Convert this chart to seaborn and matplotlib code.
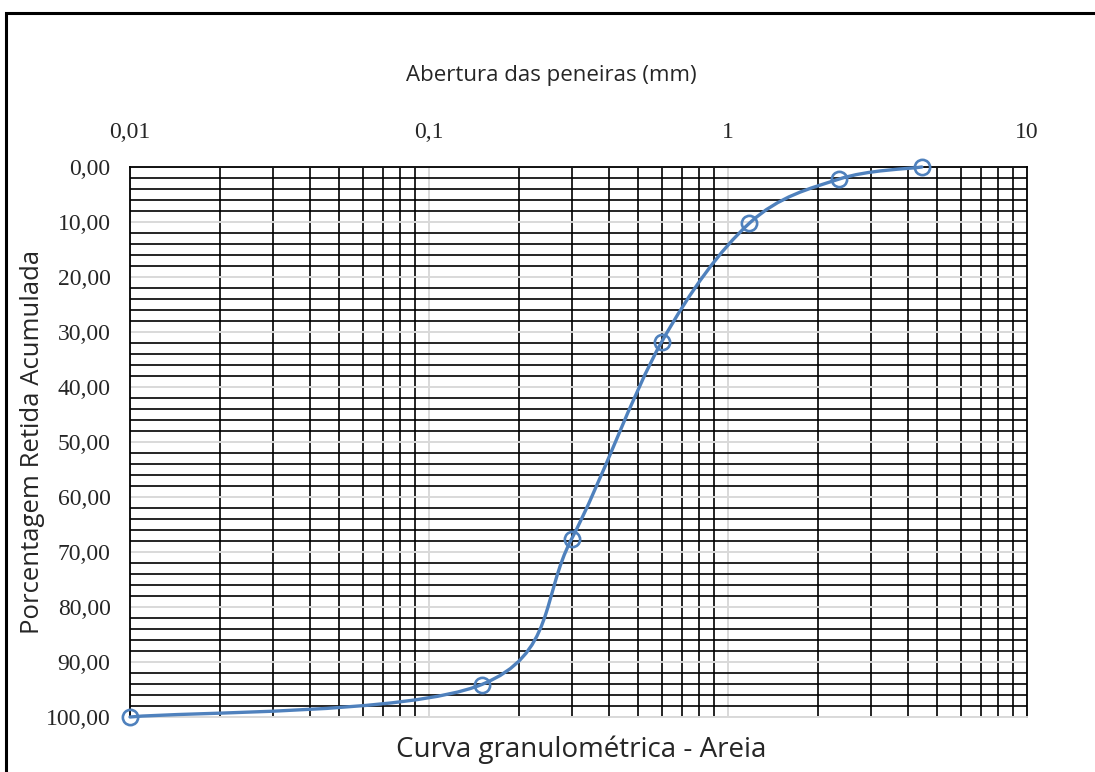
import matplotlib
matplotlib.use("Agg")
import matplotlib.pyplot as plt
import numpy as np
import seaborn as sns
from matplotlib.patches import PathPatch, Rectangle
from matplotlib.path import Path
from matplotlib.ticker import FixedLocator, FuncFormatter, LogLocator, MultipleLocator

# abertura (mm) e porcentagem retida acumulada
abertura = [4.45, 2.35, 1.18, 0.6, 0.3, 0.15, 0.01]
retida = [0.0, 2.2, 10.2, 31.8, 67.6, 94.1, 100.0]

x_ticks = [0.01, 0.1, 1, 10]
x_tick_labels = ["0,01", "0,1", "1", "10"]
y_ticks = [0, 10, 20, 30, 40, 50, 60, 70, 80, 90, 100]

line_color = "#4F81BD"

sns.set_style("white")

fig = plt.figure(figsize=(10.95, 7.72), dpi=100)
ax = fig.add_axes([130 / 1095, 1 - 717 / 772, (1027 - 130) / 1095, (717 - 167) / 772])

ax.set_xscale("log")
ax.set_xlim(0.01, 10)
ax.set_ylim(100, 0)

# curva suavizada (tipo Excel) feita com Bezier no espaco log(x), y
pts = sorted(zip(abertura, retida))
u = np.log10([p[0] for p in pts])
v = np.array([p[1] for p in pts])
P = np.column_stack([u, v])
n = len(P)
verts = [P[0]]
codes = [Path.MOVETO]
for i in range(n - 1):
    p_prev = P[max(i - 1, 0)]
    p_next2 = P[min(i + 2, n - 1)]
    c1 = P[i] + (P[i + 1] - p_prev) / 6
    c2 = P[i + 1] - (p_next2 - P[i]) / 6
    verts += [c1, c2, P[i + 1]]
    codes += [Path.CURVE4] * 3
verts = np.array(verts)
verts[:, 0] = 10 ** verts[:, 0]
curve = PathPatch(Path(verts, codes), facecolor="none", edgecolor=line_color,
                  lw=2.4, zorder=3, capstyle="round", clip_on=False)
ax.add_patch(curve)

sns.lineplot(x=abertura, y=retida, ax=ax, estimator=None, sort=False,
             linestyle="none", marker="o", markersize=11,
             markerfacecolor="none", markeredgecolor=line_color,
             markeredgewidth=1.9, zorder=4, clip_on=False)

# grade
ax.xaxis.set_major_locator(FixedLocator(x_ticks))
ax.xaxis.set_minor_locator(LogLocator(base=10, subs=np.arange(2, 10)))
ax.yaxis.set_major_locator(FixedLocator(y_ticks))
ax.yaxis.set_minor_locator(MultipleLocator(2))
ax.grid(which="major", color="#d9d9d9", lw=1.4, zorder=0)
ax.grid(which="minor", color="black", lw=1.2, zorder=1)
ax.set_axisbelow(True)

ax.xaxis.tick_top()
ax.xaxis.set_major_formatter(FuncFormatter(lambda val, pos: x_tick_labels[x_ticks.index(val)] if val in x_ticks else ""))
ax.xaxis.set_minor_formatter(FuncFormatter(lambda val, pos: ""))
ax.yaxis.set_major_formatter(FuncFormatter(lambda val, pos: f"{val:.2f}".replace(".", ",")))
ax.tick_params(which="both", length=0)
ax.tick_params(axis="x", pad=17)
ax.tick_params(axis="y", pad=14)
for lab in ax.get_xticklabels() + ax.get_yticklabels():
    lab.set_family(["Liberation Serif", "DejaVu Serif"])
    lab.set_fontsize(17)

for side in ["left", "top", "right"]:
    ax.spines[side].set_color("black")
    ax.spines[side].set_linewidth(1.3)
ax.spines["bottom"].set_color("#d9d9d9")
ax.spines["bottom"].set_linewidth(1.4)
ax.set_xlabel("")
ax.set_ylabel("")

fig.text(551 / 1095, 1 - 76 / 772, "Abertura das peneiras (mm)", ha="center", va="center",
         fontsize=16, family=["Open Sans", "DejaVu Sans"])
fig.text(33 / 1095, 1 - 442 / 772, "Porcentagem Retida Acumulada", ha="center", va="center",
         rotation=90, fontsize=18.5, family=["Open Sans", "DejaVu Sans"])
fig.text(581 / 1095, 1 - 750 / 772, "Curva granulométrica - Areia", ha="center", va="center",
         fontsize=20, family=["Open Sans", "DejaVu Sans"])

# moldura do grafico
fig.patches.append(Rectangle((6 / 1095, -0.1), 1.2, 1 - 13 / 772 + 0.1, transform=fig.transFigure,
                             fill=False, edgecolor="black", lw=2.2, zorder=10))

fig.savefig("out.png", dpi=100)
